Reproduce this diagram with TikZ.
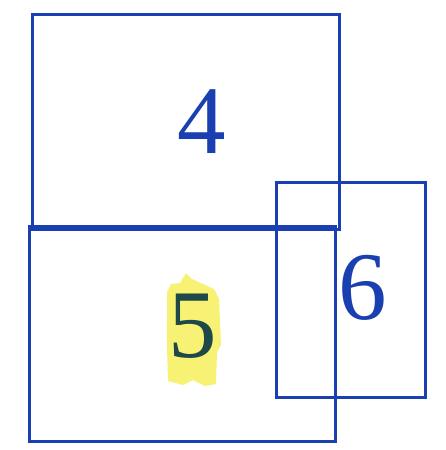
\documentclass[tikz,border=0pt]{standalone}
\usepackage{fontspec}
\setmainfont{Liberation Serif}
\definecolor{boxblue}{HTML}{1A3FB0}
\definecolor{digitgreen}{HTML}{1F4848}
\definecolor{hiyellow}{HTML}{F6F05A}
\begin{document}
\begin{tikzpicture}[x=1pt,y=-1pt,
  box/.style={draw=boxblue,line width=2.6pt},
  digit/.style={font=\fontsize{97}{97}\selectfont,inner sep=0pt,anchor=center}]
\useasboundingbox (0,0) rectangle (445,450);
% highlight
\fill[hiyellow,opacity=0.85] (167,292) -- (171,284) -- (180,283) -- (186,273) -- (192,279) -- (203,284) -- (214,289) -- (219,299) -- (221,345) -- (217,352) -- (216,384) -- (205,386) -- (193,380) -- (183,385) -- (168,381) -- (167,346) -- cycle;
\node[box,minimum width=306.8pt,minimum height=215pt,inner sep=0pt] (b4) at (185.9,121.8) {};
\node[box,minimum width=306.4pt,minimum height=215pt,inner sep=0pt] (b5) at (182.5,334.2) {};
\node[box,minimum width=148.6pt,minimum height=214.6pt,inner sep=0pt] (b6) at (351,290) {};
\node[digit,text=boxblue] (l4) at (202,122) {4};
\node[digit,text=digitgreen] (l5) at (192.5,326) {5};
\node[digit,text=boxblue] (l6) at (363,288) {6};
\end{tikzpicture}
\end{document}
